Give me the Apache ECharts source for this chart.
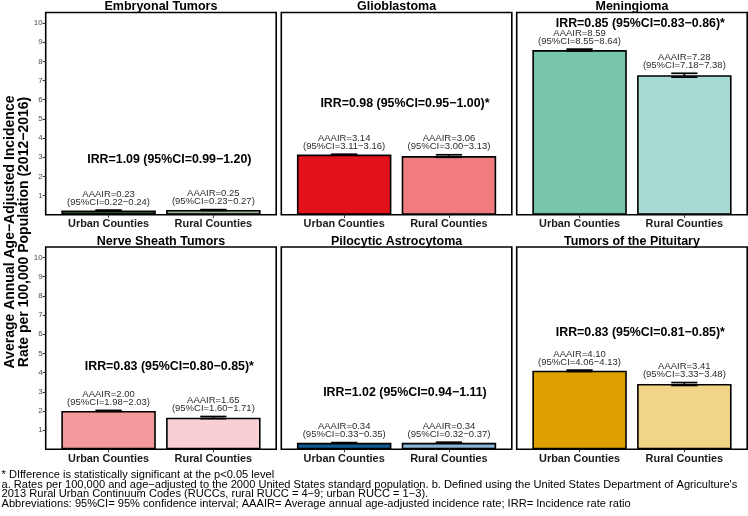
<!DOCTYPE html>
<html><head><meta charset="utf-8">
<script src="https://cdn.jsdelivr.net/npm/echarts@6/dist/echarts.min.js"></script>
<style>html,body{margin:0;padding:0;background:#fff}#c{width:748px;height:516px}</style>
</head><body><div id="c"></div>
<script>
// ---- data ----
const panels = ['Embryonal Tumors','Glioblastoma','Meningioma','Nerve Sheath Tumors','Pilocytic Astrocytoma','Tumors of the Pituitary'];
const categories = ['Urban Counties','Rural Counties'];
const urbanRate = [0.23, 3.14, 8.59, 2.00, 0.34, 4.10];
const urbanLow  = [0.22, 3.11, 8.55, 1.98, 0.33, 4.06];
const urbanHigh = [0.24, 3.16, 8.64, 2.03, 0.35, 4.13];
const ruralRate = [0.25, 3.06, 7.28, 1.65, 0.34, 3.41];
const ruralLow  = [0.23, 3.00, 7.18, 1.60, 0.32, 3.33];
const ruralHigh = [0.27, 3.13, 7.38, 1.71, 0.37, 3.48];
const irrLabels = ['IRR=1.09 (95%CI=0.99\u22121.20)','IRR=0.98 (95%CI=0.95\u22121.00)*','IRR=0.85 (95%CI=0.83\u22120.86)*',
                   'IRR=0.83 (95%CI=0.80\u22120.85)*','IRR=1.02 (95%CI=0.94\u22121.11)','IRR=0.83 (95%CI=0.81\u22120.85)*'];
const irrLabelY = [2.86, 5.78, 9.95, 4.29, 2.96, 6.10];
const yTickValues = [1,2,3,4,5,6,7,8,9,10];
const yTitle = 'Average Annual Age\u2212Adjusted Incidence\nRate per 100,000 Population (2012\u22122016)';
const footnotes = ["* DIfference is statistically significant at the p<0.05 level",
 "a. Rates per 100,000 and age\u2212adjusted to the 2000 United States standard population. b. Defined using the United States Department of Agriculture's",
 "2013 Rural Urban Continuum Codes (RUCCs, rural RUCC = 4\u22129; urban RUCC = 1\u22123).",
 "Abbreviations: 95%CI= 95% confidence interval; AAAIR= Average annual age-adjusted incidence rate; IRR= Incidence rate ratio"];

// ---- styles / layout ----
const urbanColors = ['#1f4d24','#e2121a','#78c5ae','#f39a9d','#0f5a90','#dea000'];
const ruralColors = ['#9bae9b','#f07c7f','#a8dad4','#f9cfd6','#88b5d5','#f2d489'];
const FONT = '"Liberation Sans", Arial, Helvetica, sans-serif';
const colLeft = [45.7, 281.3, 516.7];
const rowTop = [12.5, 247];
const gW = 230.5, gH = 202.3;

const grid = [], xAxis = [], yAxis = [], series = [], graphic = [];
for (let i = 0; i < 6; i++) {
  const r = Math.floor(i / 3), c = i % 3;
  grid.push({left: colLeft[c], top: rowTop[r], width: gW, height: gH, show: true,
    borderColor: '#000', borderWidth: 1.6, backgroundColor: '#fff', containLabel: false});
  xAxis.push({type: 'value', gridIndex: i, min: 0.4, max: 2.6,
    splitLine: {show: false}, axisLine: {show: false},
    axisTick: {show: true, customValues: [1, 2], length: 3, lineStyle: {color: '#333', width: 1}},
    axisLabel: {show: true, customValues: [1, 2], formatter: v => categories[Math.round(v) - 1],
      fontFamily: FONT, fontWeight: 'bold', fontSize: 10.9, color: '#1a1a1a', margin: 4}});
  yAxis.push({type: 'value', gridIndex: i, min: 0, max: 10.55,
    splitLine: {show: false}, axisLine: {show: false},
    axisTick: {show: c === 0, customValues: yTickValues, length: 3, lineStyle: {color: '#333', width: 1}},
    axisLabel: {show: c === 0, customValues: yTickValues, fontFamily: FONT, fontSize: 8, color: '#4d4d4d', margin: 3}});
  series.push({type: 'bar', xAxisIndex: i, yAxisIndex: i, barWidth: 94.5,
    itemStyle: {borderColor: '#000', borderWidth: 1.6},
    data: [{value: [1, urbanRate[i]], itemStyle: {color: urbanColors[i]}},
           {value: [2, ruralRate[i]], itemStyle: {color: ruralColors[i]}}]});
  series.push({type: 'custom', xAxisIndex: i, yAxisIndex: i, z: 5,
    data: [[1, urbanLow[i], urbanHigh[i], urbanRate[i]], [2, ruralLow[i], ruralHigh[i], ruralRate[i]]],
    renderItem: (params, api) => {
      const x = api.value(0), lo = api.value(1), hi = api.value(2), rate = api.value(3);
      const pLo = api.coord([x, lo]), pHi = api.coord([x, hi]);
      const half = api.size([0.25, 0])[0] / 2;
      const ls = {stroke: '#000', lineWidth: 1.7};
      return {type: 'group', children: [
        {type: 'line', shape: {x1: pLo[0] - half, y1: pLo[1], x2: pLo[0] + half, y2: pLo[1]}, style: ls},
        {type: 'line', shape: {x1: pHi[0] - half, y1: pHi[1], x2: pHi[0] + half, y2: pHi[1]}, style: ls},
        {type: 'line', shape: {x1: pLo[0], y1: pLo[1], x2: pHi[0], y2: pHi[1]}, style: ls},
        {type: 'text', style: {text: 'AAAIR=' + rate.toFixed(2) + '\n(95%CI=' + lo.toFixed(2) + '\u2212' + hi.toFixed(2) + ')',
          x: pHi[0], y: pHi[1] - 4, align: 'center', verticalAlign: 'bottom',
          font: '9.5px ' + FONT, lineHeight: 8, fill: '#2b2b2b'}}
      ]};
    }});
  series.push({type: 'custom', xAxisIndex: i, yAxisIndex: i, z: 6,
    data: [[1.58, irrLabelY[i]]],
    renderItem: (params, api) => {
      const p = api.coord([api.value(0), api.value(1)]);
      return {type: 'text', style: {text: irrLabels[i], x: p[0], y: p[1], align: 'center', verticalAlign: 'middle',
        font: 'bold 12.4px ' + FONT, fill: '#000'}};
    }});
  graphic.push({type: 'text', x: colLeft[c] + gW / 2, y: rowTop[r] - 5.5,
    style: {text: panels[i], align: 'center', verticalAlign: 'middle', font: 'bold 12.5px ' + FONT, fill: '#000'}});
}
graphic.push({type: 'text', x: 17, y: 232, rotation: Math.PI / 2,
  style: {text: yTitle, align: 'center', verticalAlign: 'middle', font: 'bold 14px ' + FONT, lineHeight: 14, fill: '#000'}});
graphic.push({type: 'text', x: 1.5, y: 470.3,
  style: {text: footnotes.join('\n'), align: 'left', verticalAlign: 'top', font: '11.1px ' + FONT, lineHeight: 9.5, fill: '#000'}});

const chart = echarts.init(document.getElementById('c'), null, {renderer: 'canvas'});
chart.setOption({animation: false, backgroundColor: '#fff', grid, xAxis, yAxis, series, graphic});
</script></body></html>
